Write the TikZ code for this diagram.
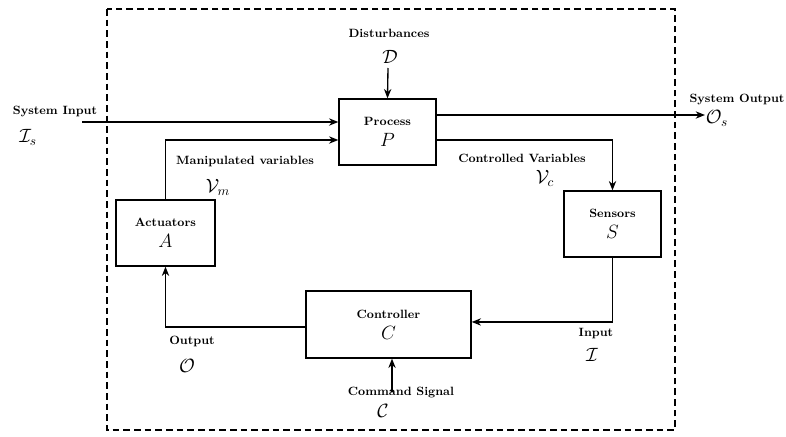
\documentclass[tikz,border=0pt]{standalone}
\usetikzlibrary{arrows.meta}
\begin{document}
\begin{tikzpicture}[x=0.75pt,y=-0.75pt,
  blk/.style={draw,line width=1pt,rectangle,align=center,inner sep=0pt,font=\bfseries\small},
  conn/.style={line width=1pt,-{Stealth[length=7pt,width=5.5pt]}},
  lbl/.style={font=\bfseries\small,inner sep=0pt},
  sym/.style={font=\Large,inner sep=0pt},
  frame/.style={line width=1.1pt,dash pattern=on 5pt off 3pt}]
\useasboundingbox (0,0) rectangle (786,436);
\draw[frame] (107,9) rectangle (675,430);
% blocks
\node[blk,minimum width=72.75pt,minimum height=49.5pt] (proc) at (387.5,132) {Process\\[5pt]{\Large\mdseries $P$}};
\node[blk,minimum width=74.25pt,minimum height=49.5pt] (act) at (165.5,233) {Actuators\\[5pt]{\Large\mdseries $A$}};
\node[blk,minimum width=72.75pt,minimum height=49.5pt] (sens) at (612.5,224) {Sensors\\[5pt]{\Large\mdseries $S$}};
\node[blk,minimum width=123.75pt,minimum height=50.25pt] (ctrl) at (388.5,324.5) {Controller\\[5pt]{\Large\mdseries $C$}};
% free ends
\coordinate (sin) at (82,122);
\coordinate (sout) at (705,115);
\coordinate (dist) at (388,68);
\coordinate (cmd) at (392,392);
% connectors
\draw[conn] (sin) -- (sin -| proc.west);
\draw[conn] (act.north) |- ([yshift=-6pt]proc.west);
\draw[conn] ([yshift=12.75pt]proc.east) -- (sout);
\draw[conn] ([yshift=-6pt]proc.east) -| (sens.north);
\draw[conn] (dist) -- (proc.north);
\draw[conn] (sens.south) |- ([yshift=1.9pt]ctrl.east);
\draw[conn] ([yshift=-1.9pt]ctrl.west) -| (act.south);
\draw[conn] (cmd) -- (cmd |- ctrl.south);
% labels
\node[lbl] (tsin) at (55,112) {System Input};
\node[sym] (ssin) at (28,137) {$\mathcal{I}_s$};
\node[lbl] (tdist) at (389,33) {Disturbances};
\node[sym] (sdist) at (390,57) {$\mathcal{D}$};
\node[lbl] (tsout) at (737,100) {System Output};
\node[sym] (ssout) at (717,118) {$\mathcal{O}_s$};
\node[lbl] (tman) at (245,161) {Manipulated variables};
\node[sym] (sman) at (218,187) {$\mathcal{V}_m$};
\node[lbl] (tcon) at (522,158) {Controlled Variables};
\node[sym] (scon) at (545,178) {$\mathcal{V}_c$};
\node[lbl] (tin) at (596,334) {Input};
\node[sym] (sinp) at (592,355) {$\mathcal{I}$};
\node[lbl] (tout) at (192,341) {Output};
\node[sym] (sout2) at (187,366) {$\mathcal{O}$};
\node[lbl] (tcmd) at (401,393) {Command Signal};
\node[sym] (scmd) at (383,411) {$\mathcal{C}$};
\end{tikzpicture}
\end{document}
